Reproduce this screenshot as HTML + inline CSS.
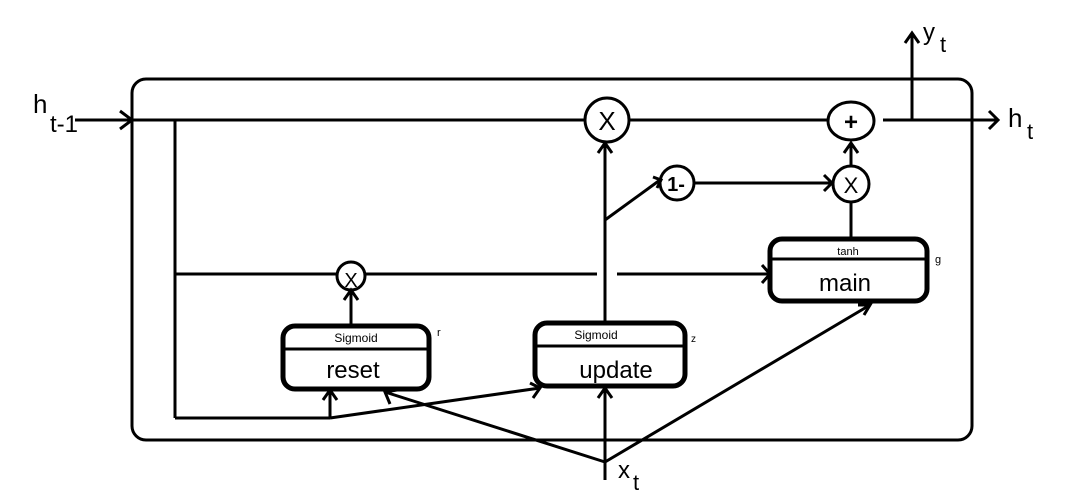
<!DOCTYPE html>
<html><head><meta charset="utf-8"><style>html,body{margin:0;padding:0;background:#fff}svg{display:block}</style></head>
<body>
<svg width="1067" height="490" viewBox="0 0 1067 490" xmlns="http://www.w3.org/2000/svg" font-family="Liberation Sans, sans-serif" fill="none" stroke="#000" stroke-width="3" stroke-linecap="butt">
<rect x="132" y="79" width="840" height="361" rx="14"/>
<!-- top line -->
<line x1="75" y1="120" x2="585" y2="120"/>
<polyline points="120,111 132,120 120,129"/>
<circle cx="607" cy="120" r="22"/>
<line x1="630" y1="120" x2="828" y2="120"/>
<ellipse cx="851" cy="121" rx="23" ry="19"/>
<line x1="883" y1="120" x2="998" y2="120"/>
<polyline points="989,111 998,120 989,129"/>
<line x1="912" y1="120" x2="912" y2="33"/>
<polyline points="905,43 912,33 919,43"/>
<!-- left vertical -->
<line x1="175" y1="120" x2="175" y2="418"/>
<line x1="175" y1="418" x2="330" y2="418"/>
<!-- middle horizontal -->
<line x1="175" y1="274" x2="337" y2="274"/>
<circle cx="351" cy="276" r="14"/>
<line x1="365" y1="274" x2="597" y2="274"/>
<line x1="617" y1="274" x2="770" y2="274"/>
<polyline points="762,265 770,274 762,283"/>
<!-- reset box -->
<rect x="283" y="326" width="146" height="63" rx="12" stroke-width="5"/>
<line x1="283" y1="349" x2="429" y2="349" stroke-width="3"/>
<line x1="351" y1="326" x2="351" y2="290"/>
<polyline points="344,300 351,290 358,300"/>
<!-- update box -->
<rect x="535" y="323" width="150" height="63" rx="12" stroke-width="5"/>
<line x1="535" y1="346" x2="685" y2="346" stroke-width="3"/>
<line x1="605" y1="323" x2="605" y2="143"/>
<polyline points="598,153 605,143 612,153"/>
<line x1="605" y1="220" x2="660" y2="180"/>
<polyline points="653,177 661,180 657,188"/>
<ellipse cx="677" cy="183" rx="17" ry="17"/>
<line x1="695" y1="183" x2="832" y2="183"/>
<polyline points="824,175 832,183 824,191"/>
<circle cx="851" cy="184" r="18"/>
<line x1="851" y1="166" x2="851" y2="143"/>
<polyline points="844,153 851,143 858,153"/>
<line x1="851" y1="238" x2="851" y2="202"/>
<!-- main box -->
<rect x="770" y="239" width="157" height="62" rx="12" stroke-width="5"/>
<line x1="770" y1="259" x2="927" y2="259" stroke-width="3"/>
<!-- bottom connections -->
<line x1="330" y1="418" x2="330" y2="390"/>
<polyline points="323,400 330,390 337,400"/>
<line x1="330" y1="418" x2="540" y2="388"/>
<polyline points="530,383 540,388 533,398"/>
<line x1="605" y1="480" x2="605" y2="388"/>
<polyline points="598,398 605,388 612,398"/>
<line x1="605" y1="462" x2="385" y2="392"/>
<polyline points="390,404 385,392 397,390"/>
<line x1="605" y1="462" x2="870" y2="305"/>
<polyline points="858,305 870,305 864,315"/>
<g fill="#000" stroke="none">
<text x="351" y="287" font-size="20" text-anchor="middle">X</text>
<text x="607" y="130" font-size="26" text-anchor="middle">X</text>
<text x="851" y="130" font-size="24" text-anchor="middle" font-weight="bold">+</text>
<text x="851" y="193" font-size="22" text-anchor="middle">X</text>
<text x="676" y="191" font-size="20" text-anchor="middle" font-weight="bold">1-</text>
<text x="356" y="342" font-size="12" text-anchor="middle">Sigmoid</text>
<text x="353" y="378" font-size="24" text-anchor="middle">reset</text>
<text x="596" y="339" font-size="12" text-anchor="middle">Sigmoid</text>
<text x="616" y="378" font-size="24" text-anchor="middle">update</text>
<text x="848" y="255" font-size="11" text-anchor="middle">tanh</text>
<text x="845" y="291" font-size="24" text-anchor="middle">main</text>
<text x="437" y="336" font-size="11">r</text>
<text x="691" y="342" font-size="10">z</text>
<text x="935" y="263" font-size="11">g</text>
<text x="33" y="113" font-size="26">h</text>
<text x="50" y="132" font-size="24">t-1</text>
<text x="1008" y="127" font-size="26">h</text>
<text x="1027" y="139" font-size="22">t</text>
<text x="923" y="40" font-size="24">y</text>
<text x="940" y="52" font-size="22">t</text>
<text x="618" y="478" font-size="24">x</text>
<text x="633" y="490" font-size="22">t</text>
</g>
</svg>
</body></html>
